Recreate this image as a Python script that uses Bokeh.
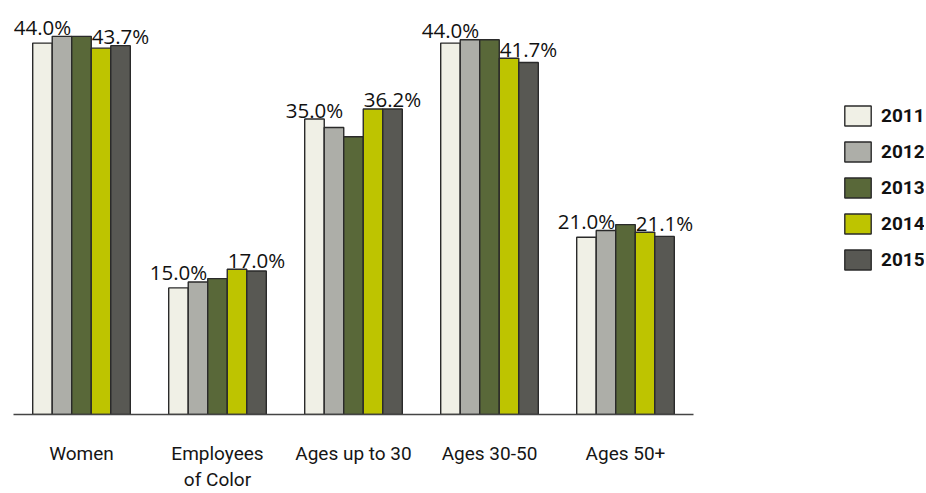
from bokeh.plotting import figure
from bokeh.models import ColumnDataSource, Range1d, Legend, LegendItem, FixedTicker
from bokeh.transform import dodge
from bokeh.core.properties import value
from bokeh.embed import file_html
from bokeh.resources import INLINE

categories = ["Women", "Employees\nof Color", "Ages up to 30", "Ages 30-50", "Ages 50+"]
years = ["2011", "2012", "2013", "2014", "2015"]
v2011 = [44.0, 15.0, 35.0, 44.0, 21.0]
v2012 = [44.8, 15.7, 34.0, 44.4, 21.8]
v2013 = [44.8, 16.1, 32.9, 44.4, 22.5]
v2014 = [43.4, 17.2, 36.2, 42.2, 21.6]
v2015 = [43.7, 17.0, 36.2, 41.7, 21.1]
colors = ["#F0F0E6", "#ADAEA8", "#596839", "#BEC400", "#585853"]

series = [v2011, v2012, v2013, v2014, v2015]
idx = list(range(len(categories)))
data = {"x": idx}
for y, v in zip(years, series):
    data["y" + y] = v
src = ColumnDataSource(data)

FRAME_W = 911          # px
CAT_PX = 136           # px per category
p = figure(x_range=Range1d(-0.5, -0.5 + FRAME_W / CAT_PX), y_range=Range1d(0, 48.1),
           frame_width=FRAME_W, frame_height=406,
           min_border_left=13, min_border_right=0, min_border_top=8, min_border_bottom=0,
           output_backend="svg", toolbar_location=None, y_axis_location=None)
p.xgrid.visible = False
p.ygrid.visible = False
p.outline_line_color = None

bw = 0.1435
offs = [-2 * bw, -bw, 0.0, bw, 2 * bw]
rends = []
for i, y in enumerate(years):
    r = p.vbar(x=dodge("x", offs[i]), top="y" + y, width=bw,
               source=src, fill_color=colors[i], line_color="#2a2a2a", line_width=1.4)
    rends.append(r)

# value labels above the first and last bar of every group
lab_left = ColumnDataSource(dict(
    x=idx,
    y=[max(a, b) for a, b in zip(v2011, v2012)],
    t=[f"{v:.1f}%" for v in v2011]))
lab_right = ColumnDataSource(dict(
    x=idx,
    y=[max(a, b) for a, b in zip(v2015, v2014)],
    t=[f"{v:.1f}%" for v in v2015]))
for s, o in ((lab_left, offs[0]), (lab_right, offs[4])):
    p.text(x=dodge("x", o), y="y", text="t", source=s,
           text_align="center", text_baseline="alphabetic", y_offset=-9.5,
           text_font=value("Open Sans"), text_font_size="20.5px", text_color="#111111")

ax = p.xaxis[0]
ax.ticker = FixedTicker(ticks=idx)
ax.major_label_overrides = {i: c for i, c in zip(idx, categories)}
ax.bounds = (-0.5, len(categories) - 0.5)
ax.axis_line_color = "#444444"
ax.axis_line_width = 1.5
ax.major_tick_line_color = None
ax.minor_tick_line_color = None
ax.major_tick_out = 0
ax.major_tick_in = 0
ax.minor_tick_out = 0
ax.minor_tick_in = 0
ax.major_label_standoff = 27
ax.major_label_text_font = "Roboto"
ax.major_label_text_font_size = "19px"
ax.major_label_text_color = "#151515"
ax.major_label_text_line_height = 1.16

legend = Legend(items=[LegendItem(label=y, renderers=[r]) for y, r in zip(years, rends)],
                location=(828, 142), glyph_width=33, glyph_height=25, label_height=25,
                spacing=11, label_standoff=7, padding=0, margin=0,
                border_line_color=None, background_fill_alpha=0,
                label_text_font="Roboto", label_text_font_style="bold",
                label_text_font_size="19px", label_text_color="#111111")
p.add_layout(legend)

open("out.html", "w").write(file_html(p, INLINE))
